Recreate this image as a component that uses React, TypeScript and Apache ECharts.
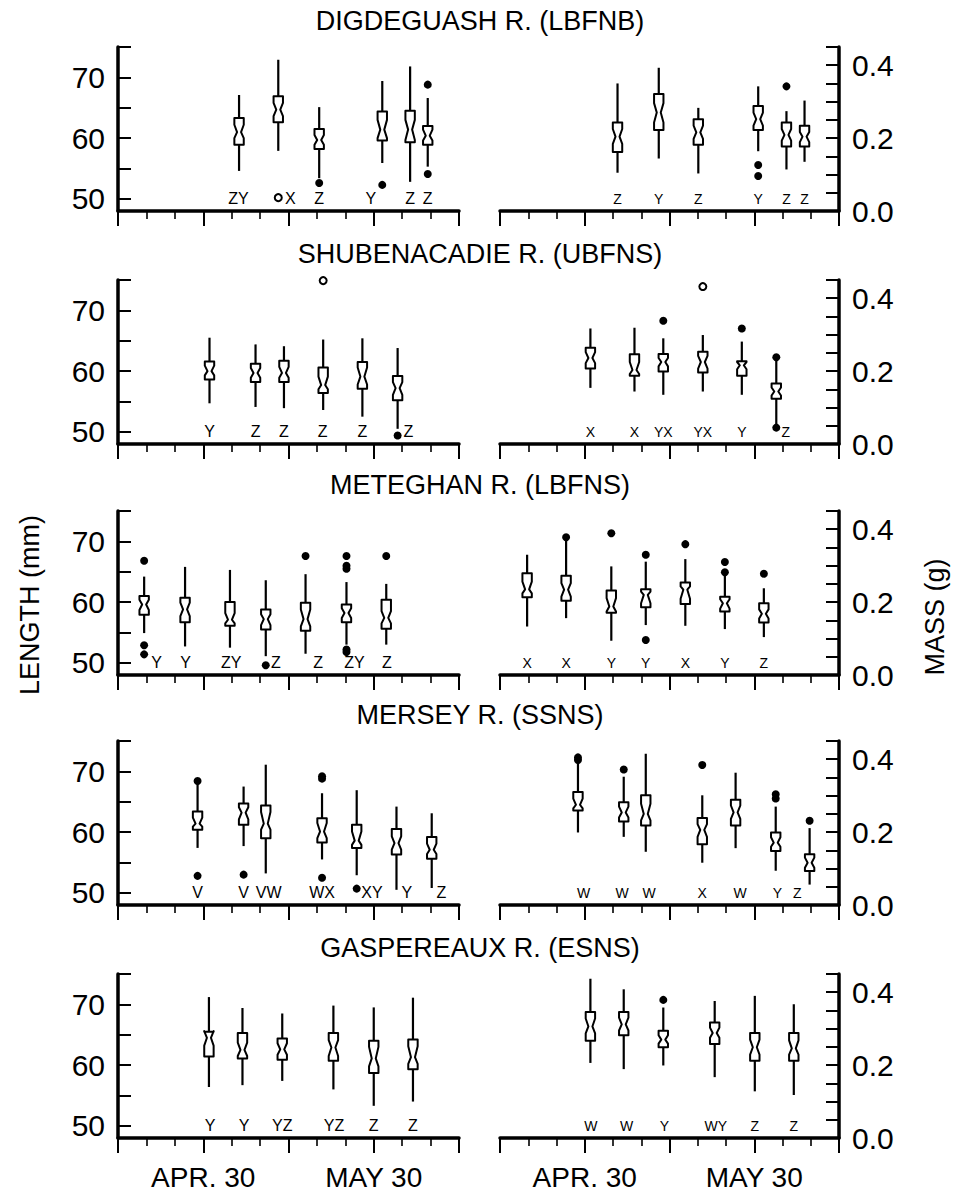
import React, { useEffect, useRef } from 'react';
import * as echarts from 'echarts';

// ---------- DATA ----------
const titles = [
  'DIGDEGUASH R. (LBFNB)',
  'SHUBENACADIE R. (UBFNS)',
  'METEGHAN R. (LBFNS)',
  'MERSEY R. (SSNS)',
  'GASPEREAUX R. (ESNS)',
];

// x: days after April 15 ; ticks every 5 days, long ticks every 15
const dateTicks = [15, 45];
const dateLabels = ['APR. 30', 'MAY 30'];
const lengthTicks = [50, 55, 60, 65, 70, 75];
const lengthLabels = [50, 60, 70];
const massTicks = [0, 0.05, 0.1, 0.15, 0.2, 0.25, 0.3, 0.35, 0.4, 0.45];
const massLabels = [0, 0.2, 0.4];

// box: [day, whiskerLow, q1, notchLow, median, notchHigh, q3, whiskerHigh]
const digLenBoxes = [
  [21.3, 54.6, 58.9, 60.0, 61.0, 62.2, 63.3, 67.1],
  [28.2, 57.9, 62.6, 63.6, 64.7, 65.8, 66.9, 72.9],
  [35.4, 53.4, 58.2, 58.9, 59.7, 60.5, 61.5, 65.1],
  [46.5, 55.9, 59.6, 60.0, 61.4, 63.0, 64.4, 69.4],
  [51.4, 52.8, 59.3, 59.7, 61.4, 63.0, 64.5, 71.8],
  [54.5, 55.3, 58.9, 59.6, 60.4, 61.4, 62.0, 66.6],
];
const digLenOut = [[35.4, 52.6], [46.5, 52.3], [54.5, 68.8], [54.5, 54.1]];
const digLenOpen = [[28.2, 50.2]];
const digLenLetters: [number, string][] = [[21.2, 'ZY'], [30.3, 'X'], [35.4, 'Z'], [44.5, 'Y'], [51.4, 'Z'], [54.5, 'Z']];

const digMassBoxes = [
  [20.8, 0.105, 0.162, 0.184, 0.204, 0.225, 0.243, 0.350],
  [28.1, 0.144, 0.222, 0.243, 0.270, 0.296, 0.321, 0.393],
  [35.1, 0.103, 0.182, 0.198, 0.216, 0.234, 0.252, 0.283],
  [45.7, 0.164, 0.222, 0.234, 0.252, 0.270, 0.288, 0.342],
  [50.7, 0.114, 0.177, 0.193, 0.209, 0.225, 0.243, 0.274],
  [53.9, 0.135, 0.177, 0.189, 0.204, 0.217, 0.234, 0.303],
];
const digMassOut = [[45.7, 0.126], [45.7, 0.096], [50.7, 0.342]];
const digMassOpen: number[][] = [];
const digMassLetters: [number, string][] = [[20.8, 'Z'], [28.1, 'Y'], [35.1, 'Z'], [45.7, 'Y'], [50.7, 'Z'], [53.9, 'Z']];

const shuLenBoxes = [
  [16.1, 54.7, 58.6, 59.3, 60.0, 60.9, 61.6, 65.5],
  [24.2, 54.1, 58.2, 58.9, 59.7, 60.5, 61.2, 64.4],
  [29.2, 53.9, 58.2, 58.9, 59.7, 60.7, 61.7, 64.1],
  [36.1, 53.6, 56.4, 57.0, 57.7, 59.1, 60.6, 65.2],
  [43.0, 52.5, 57.1, 57.8, 59.1, 60.6, 61.5, 65.4],
  [49.2, 50.5, 55.2, 56.1, 57.2, 58.2, 59.2, 63.8],
];
const shuLenOut = [[49.2, 49.4]];
const shuLenOpen = [[36.1, 74.9]];
const shuLenLetters: [number, string][] = [[16.1, 'Y'], [24.2, 'Z'], [29.2, 'Z'], [36.0, 'Z'], [43.0, 'Z'], [51.1, 'Z']];

const shuMassBoxes = [
  [16.0, 0.154, 0.207, 0.222, 0.236, 0.252, 0.264, 0.317],
  [23.8, 0.144, 0.187, 0.192, 0.203, 0.225, 0.246, 0.319],
  [28.9, 0.135, 0.199, 0.213, 0.225, 0.236, 0.247, 0.290],
  [35.9, 0.144, 0.196, 0.207, 0.225, 0.242, 0.253, 0.299],
  [42.8, 0.135, 0.187, 0.205, 0.216, 0.225, 0.227, 0.281],
  [48.9, 0.050, 0.124, 0.133, 0.144, 0.155, 0.166, 0.232],
];
const shuMassOut = [[28.9, 0.338], [42.8, 0.317], [48.9, 0.238], [48.9, 0.045]];
const shuMassOpen = [[35.9, 0.432]];
const shuMassLetters: [number, string][] = [[16.0, 'X'], [23.8, 'X'], [28.9, 'YX'], [35.9, 'YX'], [42.8, 'Y'], [50.6, 'Z']];

const metLenBoxes = [
  [4.6, 54.9, 57.9, 58.7, 59.6, 60.4, 61.0, 64.2],
  [11.8, 52.7, 56.7, 57.7, 58.8, 59.9, 60.7, 65.8],
  [19.7, 52.5, 56.1, 56.5, 57.1, 58.2, 60.0, 65.3],
  [26.0, 51.1, 55.5, 56.2, 57.2, 58.0, 58.8, 63.6],
  [33.0, 51.5, 55.3, 56.0, 57.2, 58.8, 59.9, 64.6],
  [40.2, 53.0, 56.7, 57.4, 58.2, 59.0, 59.6, 63.3],
  [47.2, 53.0, 55.6, 56.5, 57.4, 58.5, 60.4, 63.0],
];
const metLenOut = [
  [4.6, 66.8], [4.6, 52.9], [4.6, 51.4], [26.0, 49.6], [33.0, 67.6],
  [40.2, 67.6], [40.2, 66.0], [40.2, 65.5], [40.2, 52.2], [40.2, 51.8], [47.2, 67.6],
];
const metLenOpen: number[][] = [];
const metLenLetters: [number, string][] = [[6.8, 'Y'], [11.9, 'Y'], [19.9, 'ZY'], [27.8, 'Z'], [35.2, 'Z'], [41.6, 'ZY'], [47.3, 'Z']];

const metMassBoxes = [
  [4.8, 0.133, 0.213, 0.224, 0.235, 0.256, 0.279, 0.330],
  [11.7, 0.156, 0.204, 0.215, 0.234, 0.252, 0.272, 0.372],
  [19.7, 0.094, 0.171, 0.174, 0.188, 0.211, 0.232, 0.298],
  [25.8, 0.137, 0.186, 0.197, 0.220, 0.229, 0.235, 0.311],
  [32.8, 0.135, 0.195, 0.209, 0.234, 0.243, 0.254, 0.318],
  [39.8, 0.126, 0.174, 0.182, 0.197, 0.208, 0.215, 0.275],
  [46.7, 0.104, 0.144, 0.155, 0.168, 0.180, 0.197, 0.238],
];
const metMassOut = [
  [11.7, 0.378], [19.7, 0.389], [25.8, 0.330], [25.8, 0.096], [32.8, 0.359],
  [39.8, 0.310], [39.8, 0.282], [46.7, 0.278],
];
const metMassOpen: number[][] = [];
const metMassLetters: [number, string][] = [[4.8, 'X'], [11.7, 'X'], [19.7, 'Y'], [25.8, 'Y'], [32.8, 'X'], [39.8, 'Y'], [46.7, 'Z']];

const merLenBoxes = [
  [14.0, 57.4, 60.4, 60.9, 61.4, 62.4, 63.4, 67.8],
  [22.1, 57.7, 61.2, 62.1, 63.2, 64.1, 64.7, 67.5],
  [26.0, 53.2, 59.0, 60.4, 61.4, 63.3, 64.4, 71.1],
  [35.9, 55.5, 58.3, 59.0, 60.1, 61.5, 62.3, 66.4],
  [42.0, 52.9, 57.4, 57.9, 58.6, 60.1, 61.2, 66.9],
  [49.0, 50.5, 56.3, 57.1, 58.2, 59.3, 60.5, 64.2],
  [55.2, 50.8, 55.6, 56.4, 57.1, 58.1, 59.2, 63.1],
];
const merLenOut = [[14.0, 68.4], [14.0, 52.8], [22.1, 53.0], [35.9, 69.2], [35.9, 68.8], [35.9, 52.5], [42.0, 50.7]];
const merLenOpen: number[][] = [];
const merLenLetters: [number, string][] = [[14.0, 'V'], [22.1, 'V'], [26.5, 'VW'], [35.9, 'WX'], [44.7, 'XY'], [50.8, 'Y'], [56.9, 'Z']];

const merMassBoxes = [
  [13.8, 0.199, 0.259, 0.265, 0.275, 0.292, 0.310, 0.393],
  [21.9, 0.187, 0.229, 0.240, 0.254, 0.270, 0.282, 0.352],
  [25.8, 0.146, 0.218, 0.232, 0.250, 0.278, 0.301, 0.415],
  [35.8, 0.116, 0.167, 0.187, 0.206, 0.222, 0.239, 0.301],
  [41.7, 0.156, 0.218, 0.236, 0.254, 0.273, 0.289, 0.363],
  [48.8, 0.094, 0.148, 0.160, 0.171, 0.186, 0.199, 0.270],
  [54.8, 0.056, 0.093, 0.102, 0.116, 0.130, 0.139, 0.211],
];
const merMassOut = [[13.8, 0.405], [13.8, 0.398], [21.9, 0.372], [35.8, 0.384], [48.8, 0.304], [48.8, 0.292], [54.8, 0.231]];
const merMassOpen: number[][] = [];
const merMassLetters: [number, string][] = [[14.8, 'W'], [21.6, 'W'], [26.4, 'W'], [35.8, 'X'], [42.5, 'W'], [49.1, 'Y'], [52.6, 'Z']];

const gasLenBoxes = [
  [16.0, 56.4, 61.4, 63.2, 64.5, 65.6, 65.5, 71.2],
  [21.9, 56.7, 61.1, 61.5, 62.5, 63.7, 65.3, 69.4],
  [28.9, 57.4, 60.9, 61.7, 62.6, 63.6, 64.4, 68.5],
  [37.9, 56.0, 60.7, 61.5, 62.9, 64.1, 65.3, 69.8],
  [45.0, 53.3, 58.7, 59.8, 61.1, 63.0, 64.0, 69.5],
  [51.9, 54.0, 59.3, 60.2, 61.3, 63.1, 64.2, 71.1],
];
const gasLenOut: number[][] = [];
const gasLenOpen: number[][] = [];
const gasLenLetters: [number, string][] = [[16.2, 'Y'], [22.2, 'Y'], [28.9, 'YZ'], [38.0, 'YZ'], [45.0, 'Z'], [51.9, 'Z']];

const gasMassBoxes = [
  [16.0, 0.206, 0.267, 0.287, 0.306, 0.328, 0.346, 0.437],
  [21.9, 0.189, 0.282, 0.295, 0.312, 0.330, 0.346, 0.408],
  [28.9, 0.199, 0.249, 0.259, 0.270, 0.282, 0.294, 0.358],
  [38.0, 0.167, 0.258, 0.275, 0.288, 0.303, 0.317, 0.376],
  [45.1, 0.128, 0.212, 0.229, 0.249, 0.270, 0.288, 0.390],
  [52.0, 0.118, 0.212, 0.229, 0.246, 0.268, 0.288, 0.367],
];
const gasMassOut = [[28.9, 0.379]];
const gasMassOpen: number[][] = [];
const gasMassLetters: [number, string][] = [[16.1, 'W'], [22.4, 'W'], [29.1, 'Y'], [38.2, 'WY'], [45.1, 'Z'], [52.0, 'Z']];

const lengthLetterY = 50.0;
const massLetterY = 0.032;

// ---------- LAYOUT ----------
const FONT = "'Liberation Sans', Arial, Helvetica, sans-serif";
const TOPS = [47, 280, 511, 741, 974];
const GRID_H = 164;

type Side = { boxes: number[][]; out: number[][]; open: number[][]; letters: [number, string][] };
const panels: { title: string; len: Side; mass: Side }[] = [
  { title: titles[0], len: { boxes: digLenBoxes, out: digLenOut, open: digLenOpen, letters: digLenLetters }, mass: { boxes: digMassBoxes, out: digMassOut, open: digMassOpen, letters: digMassLetters } },
  { title: titles[1], len: { boxes: shuLenBoxes, out: shuLenOut, open: shuLenOpen, letters: shuLenLetters }, mass: { boxes: shuMassBoxes, out: shuMassOut, open: shuMassOpen, letters: shuMassLetters } },
  { title: titles[2], len: { boxes: metLenBoxes, out: metLenOut, open: metLenOpen, letters: metLenLetters }, mass: { boxes: metMassBoxes, out: metMassOut, open: metMassOpen, letters: metMassLetters } },
  { title: titles[3], len: { boxes: merLenBoxes, out: merLenOut, open: merLenOpen, letters: merLenLetters }, mass: { boxes: merMassBoxes, out: merMassOut, open: merMassOpen, letters: merMassLetters } },
  { title: titles[4], len: { boxes: gasLenBoxes, out: gasLenOut, open: gasLenOpen, letters: gasLenLetters }, mass: { boxes: gasMassBoxes, out: gasMassOut, open: gasMassOpen, letters: gasMassLetters } },
];

function boxRender(params: any, api: any) {
  const x = api.value(0);
  const c = (i: number) => api.coord([x, api.value(i)]);
  const lo = c(1), q1 = c(2), nl = c(3), md = c(4), nh = c(5), q3 = c(6), hi = c(7);
  const cx = lo[0];
  const w = 4.7;
  const n = 2;
  return {
    type: 'group',
    children: [
      { type: 'line', shape: { x1: cx, y1: lo[1], x2: cx, y2: hi[1] }, style: { stroke: '#000', lineWidth: 2.2 } },
      {
        type: 'polygon',
        shape: {
          points: [
            [cx - w, q3[1]], [cx - w, nh[1]], [cx - n, md[1]], [cx - w, nl[1]], [cx - w, q1[1]],
            [cx + w, q1[1]], [cx + w, nl[1]], [cx + n, md[1]], [cx + w, nh[1]], [cx + w, q3[1]],
          ],
        },
        style: { fill: '#fff', stroke: '#000', lineWidth: 2, lineJoin: 'round' },
      },
    ],
  };
}

const txt = (text: string, size: number) => ({
  text, fontSize: size, fontFamily: FONT, fill: '#000',
  align: 'center', verticalAlign: 'middle', textAlign: 'center', textVerticalAlign: 'middle',
});

function buildOption() {
  const grid: any[] = [];
  const xAxis: any[] = [];
  const yAxis: any[] = [];
  const series: any[] = [];
  const graphic: any[] = [];

  panels.forEach((p, i) => {
    const top = TOPS[i];
    const last = i === panels.length - 1;
    graphic.push({ type: 'text', x: 480, y: top - 26, silent: true, style: txt(p.title, 27) });
    [0, 1].forEach((side) => {
      const gi = i * 2 + side;
      const d = side === 0 ? p.len : p.mass;
      grid.push(side === 0 ? { left: 118, width: 341, top, height: GRID_H } : { left: 500, width: 339, top, height: GRID_H });
      xAxis.push({
        type: 'value', gridIndex: gi, min: 0, max: 60, interval: 15,
        axisLine: { onZero: false, lineStyle: { color: '#000', width: 3.5 } },
        axisTick: { show: true, length: 15, lineStyle: { color: '#000', width: 2 } },
        minorTick: { show: true, splitNumber: 3, length: 8, lineStyle: { color: '#000', width: 1.6 } },
        splitLine: { show: false },
        axisLabel: {
          show: last, margin: 25, fontSize: 28, color: '#000', fontFamily: FONT,
          formatter: (v: number) => { const k = dateTicks.indexOf(v); return k >= 0 ? dateLabels[k] : ''; },
        },
      });
      if (side === 0) {
        yAxis.push({
          type: 'value', gridIndex: gi, position: 'left', min: 48, max: 75,
          axisLine: { show: true, onZero: false, lineStyle: { color: '#000', width: 3.5 } },
          axisTick: { show: true, inside: true, length: 13, customValues: lengthTicks, lineStyle: { color: '#000', width: 2 } },
          axisLabel: { customValues: lengthLabels, fontSize: 30, margin: 13, color: '#000', fontFamily: FONT },
          splitLine: { show: false },
        });
      } else {
        yAxis.push({
          type: 'value', gridIndex: gi, position: 'right', min: 0, max: 0.45,
          axisLine: { show: true, onZero: false, lineStyle: { color: '#000', width: 3.5 } },
          axisTick: { show: true, inside: true, length: 13, customValues: massTicks, lineStyle: { color: '#000', width: 2 } },
          axisLabel: { customValues: massLabels, fontSize: 30, margin: 13, color: '#000', fontFamily: FONT, formatter: (v: number) => v.toFixed(1) },
          splitLine: { show: false },
        });
      }
      series.push({
        type: 'custom', xAxisIndex: gi, yAxisIndex: gi, data: d.boxes, renderItem: boxRender,
        encode: { x: 0, y: [1, 2, 3, 4, 5, 6, 7] }, clip: false, silent: true, z: 2,
      });
      if (d.out.length) {
        series.push({
          type: 'scatter', xAxisIndex: gi, yAxisIndex: gi, data: d.out, symbol: 'circle', symbolSize: 8,
          itemStyle: { color: '#000', opacity: 1 }, clip: false, silent: true, z: 3,
        });
      }
      if (d.open.length) {
        series.push({
          type: 'scatter', xAxisIndex: gi, yAxisIndex: gi, data: d.open, symbol: 'emptyCircle', symbolSize: 7,
          itemStyle: { color: '#000', borderWidth: 1.2, opacity: 1 }, clip: false, silent: true, z: 3,
        });
      }
      const letterY = side === 0 ? lengthLetterY : massLetterY;
      const letters = d.letters;
      const fs = side === 0 ? 16 : 14;
      series.push({
        type: 'custom', xAxisIndex: gi, yAxisIndex: gi, clip: false, silent: true, z: 4,
        data: letters.map((l) => [l[0], letterY]),
        encode: { x: 0, y: 1 },
        renderItem: (params: any, api: any) => {
          const pt = api.coord([api.value(0), api.value(1)]);
          return { type: 'text', x: pt[0], y: pt[1], style: txt(letters[params.dataIndex][1], fs) };
        },
      });
    });
  });

  graphic.push({ type: 'text', x: 30, y: 605, rotation: Math.PI / 2, silent: true, style: txt('LENGTH (mm)', 27) });
  graphic.push({ type: 'text', x: 935, y: 617, rotation: Math.PI / 2, silent: true, style: txt('MASS (g)', 27) });

  return { animation: false, backgroundColor: '#fff', grid, xAxis, yAxis, series, graphic };
}

export default function App() {
  const ref = useRef<HTMLDivElement>(null);
  useEffect(() => {
    if (!ref.current) return;
    const chart = echarts.init(ref.current, null, { renderer: 'svg' });
    chart.setOption(buildOption() as any);
    return () => chart.dispose();
  }, []);
  return <div ref={ref} style={{ position: 'fixed', left: 0, top: 0, width: 961, height: 1196, background: '#fff' }} />;
}
